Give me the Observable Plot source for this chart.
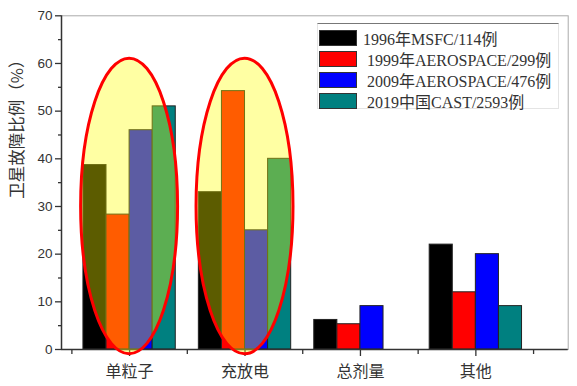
<!DOCTYPE html>
<html><head><meta charset="utf-8">
<script src="https://cdn.jsdelivr.net/npm/d3@7"></script>
<script src="https://cdn.jsdelivr.net/npm/@observablehq/plot@0.6"></script>
<style>
body{margin:0;background:#fff;}
#wrap{position:relative;width:577px;height:386px;overflow:hidden;}
#legend{position:absolute;left:317px;top:23px;width:242px;height:86px;box-sizing:border-box;border:1px solid #e4e4e4;border-top:1.5px solid #777;background:#fff;font-family:"Liberation Serif","Noto Sans CJK SC",serif;font-size:16px;color:#333;padding-top:3px;}
.row{display:flex;align-items:center;height:21px;white-space:nowrap;}
.sw{width:36px;height:14px;border:1px solid #333;margin-left:1px;flex:none;}
.lab{margin-left:6px;}
.row + .row .lab{margin-left:10px;}
</style></head>
<body><div id="wrap"></div>
<script>
const categories = ["单粒子", "充放电", "总剂量", "其他"];
const series = ["1996年MSFC/114例", "1999年AEROSPACE/299例", "2009年AEROSPACE/476例", "2019中国CAST/2593例"];
const colors = ["#000000", "#ff0000", "#0000ff", "#008080"];
const v1996 = [38.7, 33.0, 6.2, 22.0];
const v1999 = [28.3, 54.2, 5.3, 12.0];
const v2009 = [46.0, 25.0, 9.1, 20.0];
const v2019 = [51.0, 40.0, null, 9.1];
const yTicks = [0, 10, 20, 30, 40, 50, 60, 70];
const yMinorTicks = [5, 15, 25, 35, 45, 55, 65];
const xMinorTicks = [-0.5, 0.5, 1.5, 2.5, 3.5];
const yLabel = "卫星故障比例（%）";
const highlighted = ["单粒子", "充放电"];
const highlightRange = [-1, 61];

const xDomain = [-0.59, 3.8];
const barW = 0.2;
const valuesBySeries = [v1996, v1999, v2009, v2019];
const data = [];
categories.forEach((c, i) => {
  valuesBySeries.forEach((vals, j) => {
    if (vals[i] == null) return;
    const x1 = i + (j - 2) * barW;
    data.push({category: c, series: series[j], value: vals[i], x1, x2: x1 + barW});
  });
});

function ellipses(index, scales) {
  const g = d3.create("svg:g");
  const yc = (highlightRange[0] + highlightRange[1]) / 2;
  for (const c of highlighted) {
    const i = categories.indexOf(c);
    const cx = scales.x(i), cy = scales.y(yc);
    g.append("ellipse")
      .attr("cx", cx).attr("cy", cy)
      .attr("rx", scales.x(i + 0.42) - cx)
      .attr("ry", scales.y(highlightRange[0]) - cy)
      .attr("fill", "rgb(255,255,0)").attr("fill-opacity", 0.36)
      .attr("stroke", "#ff0000").attr("stroke-width", 3);
  }
  return g.node();
}

const blank = () => "";
const chart = Plot.plot({
  width: 577, height: 386,
  marginLeft: 61, marginRight: 9.3, marginTop: 15.3, marginBottom: 37,
  style: {fontFamily: "Liberation Sans, Arial, sans-serif", fontSize: "13px", color: "#333", background: "#fff", overflow: "visible"},
  x: {type: "linear", domain: xDomain},
  y: {domain: [0, 70]},
  color: {domain: series, range: colors},
  marks: [
    Plot.frame({stroke: "#aaa", strokeWidth: 1}),
    Plot.rect(data, {x1: "x1", x2: "x2", y1: 0, y2: "value", fill: "series", stroke: "#222", strokeWidth: 1}),
    Plot.axisY({ticks: yTicks, tickSize: 6, tickPadding: 3, label: null, stroke: "#333", strokeWidth: 1.3, fill: "#333", fontSize: 13.5}),
    Plot.axisY({ticks: yMinorTicks, tickSize: 3, tickFormat: blank, label: null, stroke: "#333", strokeWidth: 1.3}),
    Plot.axisX({ticks: [0, 1, 2, 3], tickFormat: i => categories[i], tickSize: 7, tickPadding: 9, label: null, stroke: "#333", strokeWidth: 1.3, fill: "#333", fontSize: 16, fontFamily: "Noto Sans CJK SC"}),
    Plot.axisX({ticks: xMinorTicks, tickSize: 5, tickFormat: blank, label: null, stroke: "#333", strokeWidth: 1.3}),
    Plot.ruleY([0], {stroke: "#333", strokeWidth: 1.5}),
    Plot.ruleX([xDomain[0]], {stroke: "#333", strokeWidth: 1.5}),
    ellipses,
    Plot.text([yLabel], {frameAnchor: "left", rotate: -90, dx: -44, dy: 16, fontSize: 16.5, fill: "#333", fontFamily: "Noto Sans CJK SC"})
  ]
});
const wrap = document.getElementById("wrap");
wrap.appendChild(chart);

const legend = document.createElement("div");
legend.id = "legend";
series.forEach((s, j) => {
  const row = document.createElement("div");
  row.className = "row";
  const sw = document.createElement("div");
  sw.className = "sw";
  sw.style.background = colors[j];
  const lab = document.createElement("span");
  lab.className = "lab";
  lab.textContent = s;
  row.appendChild(sw); row.appendChild(lab);
  legend.appendChild(row);
});
wrap.appendChild(legend);
</script></body></html>
